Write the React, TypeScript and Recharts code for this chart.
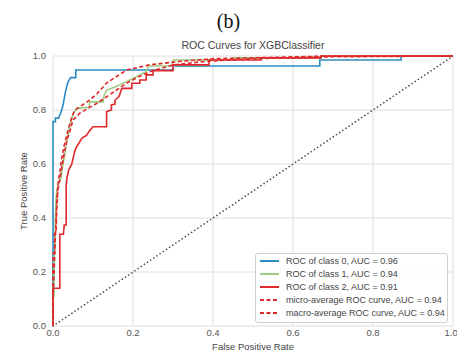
import { CartesianGrid, Line, LineChart, XAxis, YAxis } from "recharts";

type Pt = { fpr: number; tpr: number };
const pts = (rows: number[][]): Pt[] => rows.map(([fpr, tpr]) => ({ fpr, tpr }));

// values (fpr, tpr)
const class0 = pts([
  [0, 0], [0, 0.757], [0.006, 0.757], [0.006, 0.77], [0.014, 0.77], [0.018, 0.785], [0.022, 0.8],
  [0.026, 0.825], [0.03, 0.86], [0.034, 0.885], [0.038, 0.905], [0.044, 0.92], [0.057, 0.92],
  [0.057, 0.948], [0.3, 0.948], [0.3, 0.963], [0.667, 0.963], [0.667, 0.985], [0.87, 0.985],
  [0.87, 1], [1, 1],
]);

const class1 = pts([
  [0, 0], [0, 0.11], [0.003, 0.11], [0.003, 0.25], [0.005, 0.3], [0.006, 0.4], [0.008, 0.48],
  [0.012, 0.52], [0.02, 0.55], [0.025, 0.6], [0.03, 0.64], [0.034, 0.68], [0.038, 0.71],
  [0.042, 0.74], [0.047, 0.77], [0.052, 0.79], [0.06, 0.806], [0.09, 0.81], [0.092, 0.83],
  [0.125, 0.83], [0.128, 0.855], [0.134, 0.874], [0.155, 0.885], [0.184, 0.905], [0.217, 0.93],
  [0.233, 0.942], [0.238, 0.963], [0.3, 0.963], [0.3, 0.985], [0.45, 0.985], [0.45, 0.993],
  [0.67, 0.993], [0.67, 1], [1, 1],
]);

const class2 = pts([
  [0, 0], [0, 0.14], [0.017, 0.14], [0.017, 0.34], [0.026, 0.34], [0.028, 0.374], [0.033, 0.374],
  [0.033, 0.52], [0.035, 0.55], [0.04, 0.58], [0.047, 0.6], [0.05, 0.62], [0.055, 0.65],
  [0.059, 0.664], [0.066, 0.68], [0.072, 0.695], [0.084, 0.707], [0.09, 0.72], [0.1, 0.738],
  [0.134, 0.738], [0.134, 0.794], [0.146, 0.8], [0.146, 0.819], [0.155, 0.822], [0.155, 0.837],
  [0.165, 0.85], [0.172, 0.88], [0.197, 0.88], [0.197, 0.899], [0.217, 0.899], [0.217, 0.911],
  [0.233, 0.911], [0.233, 0.93], [0.25, 0.93], [0.25, 0.946], [0.3, 0.946], [0.3, 0.967],
  [0.39, 0.967], [0.39, 0.985], [0.52, 0.985], [0.52, 0.993], [0.67, 0.993], [0.67, 1], [1, 1],
]);

const microAvg = pts([
  [0, 0], [0, 0.27], [0.004, 0.27], [0.004, 0.34], [0.008, 0.35], [0.009, 0.45], [0.012, 0.52],
  [0.018, 0.58], [0.022, 0.62], [0.028, 0.67], [0.035, 0.71], [0.042, 0.75], [0.05, 0.785],
  [0.055, 0.8], [0.07, 0.815], [0.092, 0.837], [0.11, 0.86], [0.134, 0.9], [0.16, 0.925],
  [0.184, 0.948], [0.24, 0.967], [0.318, 0.98], [0.4, 0.99], [0.55, 0.995], [0.7, 1], [1, 1],
]);

const macroAvg = pts([
  [0, 0], [0, 0.13], [0.003, 0.2], [0.005, 0.3], [0.008, 0.4], [0.012, 0.5], [0.02, 0.57],
  [0.028, 0.64], [0.035, 0.69], [0.042, 0.72], [0.05, 0.763], [0.067, 0.788], [0.092, 0.81],
  [0.11, 0.825], [0.134, 0.849], [0.16, 0.875], [0.184, 0.899], [0.21, 0.92], [0.242, 0.942],
  [0.3, 0.967], [0.38, 0.98], [0.5, 0.99], [0.7, 0.997], [1, 1],
]);

const diagonal = pts([[0, 0], [1, 1]]);

const ticks = [0, 0.2, 0.4, 0.6, 0.8, 1.0];

const series = [
  { key: "c0", name: "ROC of class 0, AUC = 0.96", data: class0, color: "#2b8cc4", dash: undefined },
  { key: "c1", name: "ROC of class 1, AUC = 0.94", data: class1, color: "#9dcb80", dash: undefined },
  { key: "c2", name: "ROC of class 2, AUC = 0.91", data: class2, color: "#e0282a", dash: undefined },
  { key: "micro", name: "micro-average ROC curve, AUC = 0.94", data: microAvg, color: "#e0282a", dash: "4 2.5" },
  { key: "macro", name: "macro-average ROC curve, AUC = 0.94", data: macroAvg, color: "#e0282a", dash: "4 2.5" },
];

const FONT = '"Liberation Sans", Arial, sans-serif';
const tickStyle = { fill: "#555", fontSize: 9.5, fontFamily: FONT };

function RocLegend() {
  return (
    <div
      style={{
        position: "absolute",
        left: 255,
        top: 253,
        width: 193,
        boxSizing: "border-box",
        border: "1px solid #d0d0d0",
        borderRadius: 3,
        background: "rgba(255,255,255,0.85)",
        padding: "1px 2px 3px 3px",
        fontFamily: FONT,
        fontSize: 9,
        color: "#444",
      }}
    >
      {series.map((s) => (
        <div key={s.key} style={{ display: "flex", alignItems: "center", height: 12.9 }}>
          <svg width={22} height={6} style={{ marginRight: 5, flexShrink: 0 }}>
            <line x1={1} y1={3} x2={20} y2={3} stroke={s.color} strokeWidth={2} strokeDasharray={s.dash} />
          </svg>
          <span style={{ whiteSpace: "nowrap", flexShrink: 0 }}>{s.name}</span>
        </div>
      ))}
    </div>
  );
}

export default function App() {
  return (
    <div style={{ position: "absolute", left: 0, top: 0, width: 457, height: 354, background: "#fff" }}>
      <div
        style={{
          position: "absolute",
          left: 0,
          width: 457,
          top: 9,
          textAlign: "center",
          fontFamily: '"Liberation Serif", "Times New Roman", serif',
          fontSize: 20,
          color: "#111",
          lineHeight: "24px",
        }}
      >
        (b)
      </div>
      <div
        style={{
          position: "absolute",
          left: 53,
          width: 400,
          top: 39,
          textAlign: "center",
          fontFamily: FONT,
          fontSize: 10.5,
          color: "#444",
          lineHeight: "13px",
        }}
      >
        ROC Curves for XGBClassifier
      </div>
      <LineChart width={457} height={354} margin={{ top: 56, right: 4, left: 13, bottom: 0 }}>
        <CartesianGrid stroke="#dedede" strokeWidth={1} />
        <XAxis
          dataKey="fpr"
          type="number"
          domain={[0, 1]}
          ticks={ticks}
          tickFormatter={(v: number) => v.toFixed(1)}
          tick={tickStyle}
          tickLine={false}
          axisLine={false}
          tickSize={0}
          tickMargin={3}
          height={28}
          allowDuplicatedCategory
          label={{
            value: "False Positive Rate",
            position: "insideBottom",
            offset: 4,
            style: { fill: "#444", fontSize: 9.5, fontFamily: FONT },
          }}
        />
        <YAxis
          dataKey="tpr"
          type="number"
          domain={[0, 1]}
          ticks={ticks}
          tickFormatter={(v: number) => v.toFixed(1)}
          tick={tickStyle}
          tickLine={false}
          axisLine={false}
          tickSize={0}
          tickMargin={7}
          width={40}
          label={{
            value: "True Positive Rate",
            angle: -90,
            position: "insideLeft",
            offset: 11,
            style: { fill: "#444", fontSize: 9.5, fontFamily: FONT, textAnchor: "middle" },
          }}
        />
        <Line
          data={diagonal}
          dataKey="tpr"
          type="linear"
          stroke="#555"
          strokeWidth={1.7}
          strokeDasharray="0.1 3.7"
          strokeLinecap="round"
          dot={false}
          isAnimationActive={false}
          legendType="none"
        />
        {series.map((s) => (
          <Line
            key={s.key}
            data={s.data}
            dataKey="tpr"
            name={s.name}
            type="linear"
            stroke={s.color}
            strokeWidth={1.6}
            strokeDasharray={s.dash}
            dot={false}
            isAnimationActive={false}
          />
        ))}
      </LineChart>
      <RocLegend />
    </div>
  );
}
